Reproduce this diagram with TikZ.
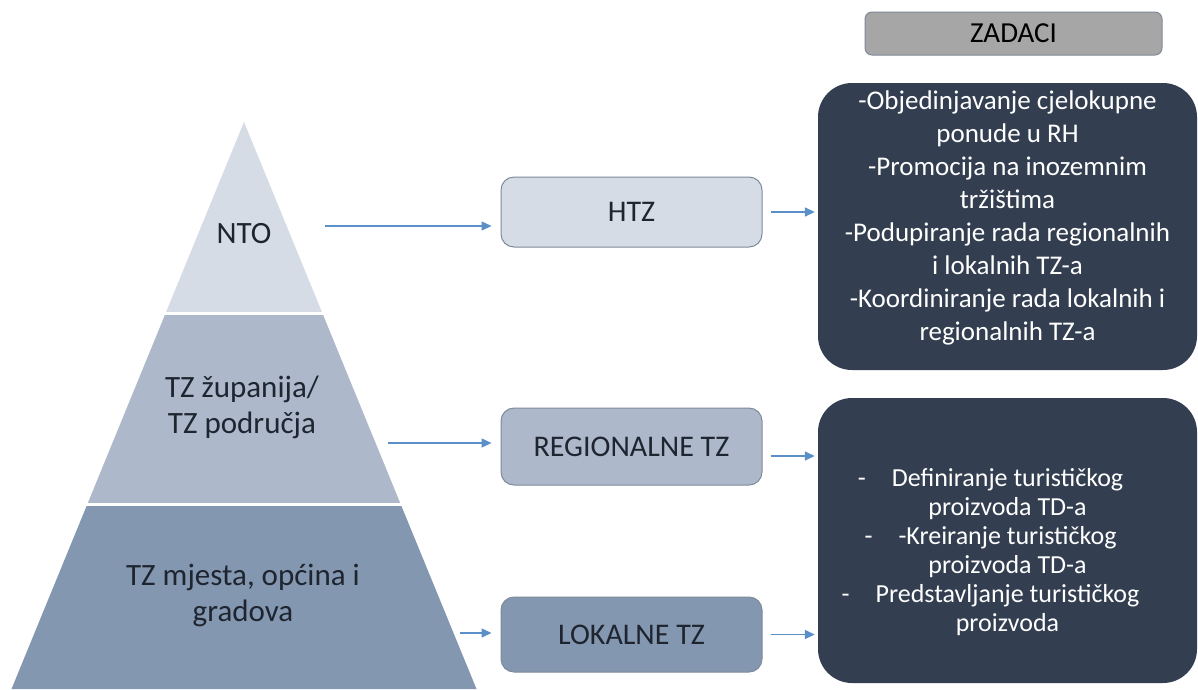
\documentclass[tikz,border=0pt]{standalone}
\usepackage{fontspec}
\setmainfont{Carlito}
\usetikzlibrary{arrows.meta}
\definecolor{tierA}{HTML}{D6DCE5}
\definecolor{tierB}{HTML}{ADB9CA}
\definecolor{tierC}{HTML}{8497B0}
\definecolor{darkbox}{HTML}{333F50}
\definecolor{arrowc}{HTML}{5B8FC7}
\definecolor{boxline}{HTML}{7F8A99}
\definecolor{zadfill}{HTML}{A6A6A6}
\definecolor{txt}{HTML}{1E2530}
\begin{document}
\begin{tikzpicture}[x=1pt,y=-1pt,
  conn/.style={draw=arrowc, line width=1.5pt, -{Triangle[length=10pt,width=9pt]}},
  midbox/.style={rectangle, rounded corners=13pt, draw=boxline, line width=1pt,
    minimum width=261pt, text=txt, font=\fontsize{30}{36}\selectfont},
  taskbox/.style={rectangle, rounded corners=34pt, fill=darkbox, draw=none,
    minimum width=379pt, text=white, align=center},
  tiertext/.style={text=txt, align=center, font=\fontsize{31}{36}\selectfont},
  zadbox/.style={rectangle, rounded corners=7pt, fill=zadfill, draw=boxline, line width=1pt,
    minimum width=297pt, minimum height=43pt, text=black, font=\fontsize{29}{34}\selectfont}]
\useasboundingbox (0,0) rectangle (1198,689);
\fill[white] (0,0) rectangle (1198,689);
% pyramid
\fill[tierA] (244,122) -- (322.3,313) -- (165.7,313) -- cycle;
\fill[tierB] (165.7,313) -- (322.3,313) -- (401,505) -- (87,505) -- cycle;
\fill[tierC] (87,505) -- (401,505) -- (476.5,689) -- (11.5,689) -- cycle;
\draw[white, line width=3pt] (150,313) -- (340,313);
\draw[white, line width=3pt] (70,504) -- (420,504);
\node[tiertext] (nto) at (244,234) {NTO};
\node[tiertext] (zup) at (242,407) {TZ županija/\\TZ područja};
\node[tiertext] (mje) at (243,595) {TZ mjesta, općina i\\gradova};
% middle boxes
\node[midbox, fill=tierA, minimum height=70pt] (htz) at (631.5,212) {HTZ};
\node[midbox, fill=tierB, minimum height=77pt] (reg) at (631.5,446.5) {REGIONALNE TZ};
\node[midbox, fill=tierC, minimum height=75pt] (lok) at (631.5,634.5) {LOKALNE TZ};
% task boxes
\node[zadbox] (zad) at (1013.5,33.5) {ZADACI};
\node[taskbox, minimum height=287pt, font=\fontsize{27}{33}\selectfont] (t1) at (1007.5,226.5)
  {-Objedinjavanje cjelokupne\\ponude u RH\\-Promocija na inozemnim\\tržištima\\-Podupiranje rada regionalnih\\i lokalnih TZ-a\\-Koordiniranje rada lokalnih i\\regionalnih TZ-a\rule[-21pt]{0pt}{1pt}};
\node[taskbox, minimum height=285pt, font=\fontsize{26}{29}\selectfont] (t2) at (1007.5,540.5)
  {\rule{0pt}{41pt}\llap{-\hspace{1em}}Definiranje turističkog\\proizvoda TD-a\\\llap{-\hspace{1em}}-Kreiranje turističkog\\proizvoda TD-a\\\llap{-\hspace{1em}}Predstavljanje turističkog\\proizvoda};
% connectors
\coordinate (s1) at (325,226);
\coordinate (s2) at (388,443);
\coordinate (s3) at (460,633);
\draw[conn, shorten >=9pt] (s1) -- (s1 -| htz.west);
\draw[conn, shorten >=9pt] (s2) -- (s2 -| reg.west);
\draw[conn, shorten >=9pt] (s3) -- (s3 -| lok.west);
\coordinate (e2) at (reg.east |- 0,456);
\draw[conn, shorten <=8pt, shorten >=3pt] (htz.east) -- (htz.east -| t1.west);
\draw[conn, shorten <=8pt, shorten >=3pt] (e2) -- (e2 -| t2.west);
\draw[conn, shorten <=8pt, shorten >=3pt] (lok.east) -- (lok.east -| t2.west);
\end{tikzpicture}
\end{document}
